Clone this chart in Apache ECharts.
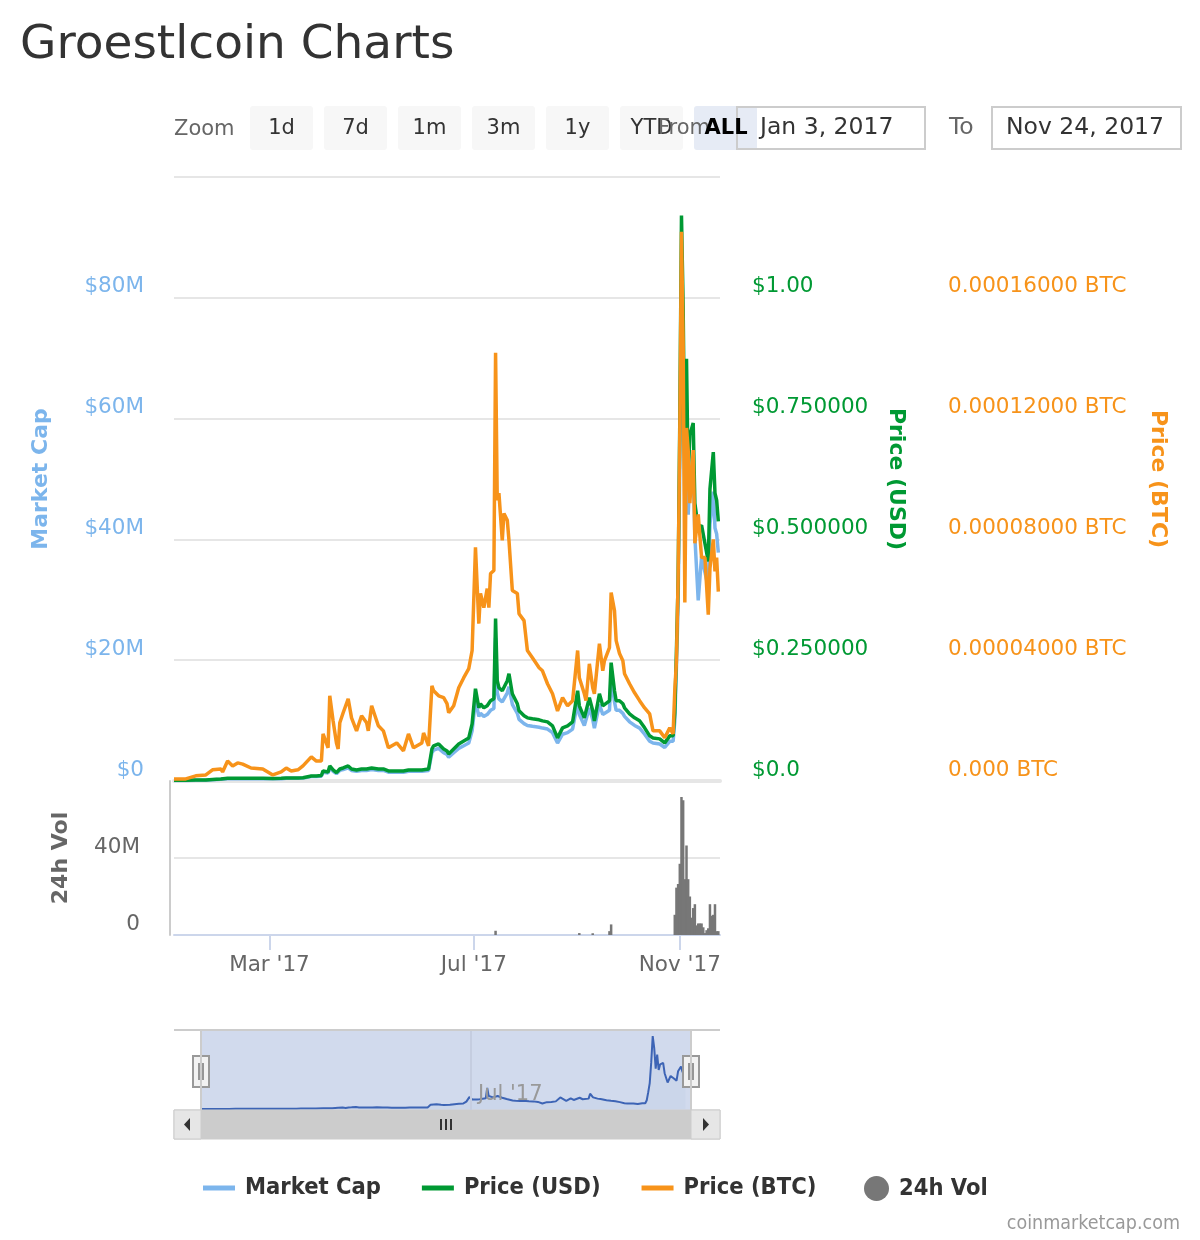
<!DOCTYPE html>
<html>
<head>
<meta charset="utf-8">
<title>Groestlcoin Charts</title>
<script src="https://cdn.jsdelivr.net/npm/echarts@6/dist/echarts.min.js"></script>
<style>
  html, body { margin: 0; padding: 0; background: #fff; }
  #chart { width: 1200px; height: 1240px; }
</style>
</head>
<body>
<div id="chart"></div>
<script>
// daily samples
const dates = [
  '2017-01-03', '2017-01-10', '2017-01-16', '2017-01-22', '2017-01-26', '2017-01-31', '2017-02-01', '2017-02-04',
  '2017-02-07', '2017-02-10', '2017-02-13', '2017-02-18', '2017-02-25', '2017-03-03', '2017-03-08', '2017-03-11',
  '2017-03-14', '2017-03-18', '2017-03-21', '2017-03-26', '2017-03-29', '2017-04-01', '2017-04-02', '2017-04-05',
  '2017-04-06', '2017-04-08', '2017-04-10', '2017-04-11', '2017-04-12', '2017-04-14', '2017-04-17', '2017-04-19',
  '2017-04-22', '2017-04-25', '2017-04-28', '2017-04-29', '2017-05-01', '2017-05-05', '2017-05-08', '2017-05-11',
  '2017-05-16', '2017-05-20', '2017-05-23', '2017-05-26', '2017-05-31', '2017-06-01', '2017-06-04', '2017-06-06',
  '2017-06-07', '2017-06-10', '2017-06-13', '2017-06-15', '2017-06-16', '2017-06-19', '2017-06-22', '2017-06-25',
  '2017-06-28', '2017-06-30', '2017-07-02', '2017-07-04', '2017-07-05', '2017-07-07', '2017-07-09', '2017-07-10',
  '2017-07-11', '2017-07-13', '2017-07-14', '2017-07-15', '2017-07-16', '2017-07-18', '2017-07-19', '2017-07-21',
  '2017-07-22', '2017-07-24', '2017-07-27', '2017-07-28', '2017-07-31', '2017-08-02', '2017-08-05', '2017-08-09',
  '2017-08-11', '2017-08-14', '2017-08-17', '2017-08-20', '2017-08-23', '2017-08-26', '2017-08-29', '2017-09-01',
  '2017-09-02', '2017-09-05', '2017-09-06', '2017-09-08', '2017-09-10', '2017-09-11', '2017-09-14', '2017-09-16',
  '2017-09-17', '2017-09-20', '2017-09-21', '2017-09-23', '2017-09-24', '2017-09-26', '2017-09-28', '2017-09-29',
  '2017-10-02', '2017-10-05', '2017-10-08', '2017-10-11', '2017-10-14', '2017-10-16', '2017-10-20', '2017-10-23',
  '2017-10-26', '2017-10-28', '2017-10-29', '2017-10-30', '2017-10-31', '2017-11-01', '2017-11-02', '2017-11-03',
  '2017-11-04', '2017-11-05', '2017-11-06', '2017-11-07', '2017-11-09', '2017-11-10', '2017-11-12', '2017-11-14',
  '2017-11-16', '2017-11-18', '2017-11-19', '2017-11-21', '2017-11-22', '2017-11-23', '2017-11-24'
]

const priceBtc = [
  0.0000007, 0.0000007, 0.0000017, 0.0000020, 0.0000037, 0.0000040, 0.0000030, 0.0000066,
  0.0000050, 0.0000060, 0.0000056, 0.0000043, 0.0000040, 0.0000020, 0.0000030, 0.0000043,
  0.0000033, 0.0000037, 0.0000050, 0.0000080, 0.0000066, 0.0000066, 0.0000156, 0.0000110,
  0.0000282, 0.0000199, 0.0000126, 0.0000106, 0.0000193, 0.0000226, 0.0000272, 0.0000209,
  0.0000166, 0.0000216, 0.0000193, 0.0000166, 0.0000249, 0.0000183, 0.0000166, 0.0000110,
  0.0000126, 0.0000100, 0.0000156, 0.0000110, 0.0000126, 0.0000159, 0.0000116, 0.0000315,
  0.0000299, 0.0000282, 0.0000276, 0.0000256, 0.0000226, 0.0000249, 0.0000309, 0.0000342,
  0.0000372, 0.0000432, 0.0000774, 0.0000521, 0.0000621, 0.0000574, 0.0000637, 0.0000574,
  0.0000687, 0.0000697, 0.0001418, 0.0000930, 0.0000953, 0.0000797, 0.0000886, 0.0000863,
  0.0000797, 0.0000631, 0.0000621, 0.0000554, 0.0000531, 0.0000432, 0.0000408, 0.0000375,
  0.0000365, 0.0000322, 0.0000289, 0.0000232, 0.0000276, 0.0000249, 0.0000266, 0.0000432,
  0.0000342, 0.0000289, 0.0000266, 0.0000388, 0.0000309, 0.0000289, 0.0000455, 0.0000365,
  0.0000398, 0.0000442, 0.0000624, 0.0000564, 0.0000465, 0.0000422, 0.0000398, 0.0000355,
  0.0000322, 0.0000292, 0.0000266, 0.0000242, 0.0000222, 0.0000166, 0.0000166, 0.0000143,
  0.0000176, 0.0000156, 0.0000299, 0.0000398, 0.0000671, 0.0001155, 0.0001819, 0.0001451,
  0.0000591, 0.0001169, 0.0001096, 0.0000920, 0.0001096, 0.0000787, 0.0000883, 0.0000740,
  0.0000740, 0.0000551, 0.0000704, 0.0000800, 0.0000694, 0.0000740, 0.0000627
]

const priceUsd = [
  0.0015, 0.0015, 0.0020, 0.0020, 0.0030, 0.0040, 0.0040, 0.0056,
  0.0056, 0.0056, 0.0056, 0.0056, 0.0056, 0.0052, 0.0056, 0.0062,
  0.0062, 0.0062, 0.0068, 0.0104, 0.0104, 0.0114, 0.0208, 0.0187,
  0.0311, 0.0228, 0.0172, 0.0166, 0.0249, 0.0270, 0.0311, 0.0249,
  0.0228, 0.0249, 0.0249, 0.0249, 0.0270, 0.0249, 0.0249, 0.0208,
  0.0208, 0.0208, 0.0228, 0.0228, 0.0228, 0.0249, 0.0249, 0.0664,
  0.0726, 0.0768, 0.0664, 0.0623, 0.0560, 0.0664, 0.0768, 0.0830,
  0.0892, 0.1183, 0.1909, 0.1515, 0.1598, 0.1515, 0.1556, 0.1556,
  0.1660, 0.1702, 0.3362, 0.2075, 0.1930, 0.1868, 0.1868, 0.2075,
  0.2220, 0.1805, 0.1598, 0.1453, 0.1349, 0.1307, 0.1287, 0.1266,
  0.1245, 0.1224, 0.1141, 0.0892, 0.1100, 0.1141, 0.1224, 0.1868,
  0.1556, 0.1307, 0.1287, 0.1722, 0.1453, 0.1245, 0.1805, 0.1556,
  0.1515, 0.1660, 0.2449, 0.1868, 0.1660, 0.1660, 0.1598, 0.1515,
  0.1390, 0.1307, 0.1245, 0.1100, 0.0934, 0.0892, 0.0872, 0.0789,
  0.0934, 0.0934, 0.1411, 0.2698, 0.4150, 0.7470, 1.1703, 0.9815,
  0.6474, 0.8736, 0.6267, 0.7159, 0.7408, 0.5748, 0.5229, 0.5291,
  0.4918, 0.4544, 0.6038, 0.6806, 0.5955, 0.5810, 0.5374
]

const marketCap = [
  0.10e6, 0.10e6, 0.14e6, 0.14e6, 0.21e6, 0.28e6, 0.28e6, 0.39e6,
  0.39e6, 0.39e6, 0.39e6, 0.39e6, 0.39e6, 0.37e6, 0.39e6, 0.44e6,
  0.44e6, 0.44e6, 0.48e6, 0.73e6, 0.73e6, 0.80e6, 1.46e6, 1.31e6,
  2.19e6, 1.60e6, 1.21e6, 1.17e6, 1.75e6, 1.90e6, 2.19e6, 1.75e6,
  1.60e6, 1.75e6, 1.75e6, 1.75e6, 1.90e6, 1.75e6, 1.75e6, 1.46e6,
  1.46e6, 1.46e6, 1.60e6, 1.60e6, 1.60e6, 1.75e6, 1.75e6, 4.67e6,
  5.10e6, 5.40e6, 4.67e6, 4.38e6, 3.94e6, 4.67e6, 5.40e6, 5.84e6,
  6.28e6, 8.32e6, 13.4e6, 10.7e6, 11.2e6, 10.7e6, 11.0e6, 11.0e6,
  11.7e6, 12.0e6, 23.7e6, 14.6e6, 13.6e6, 13.1e6, 13.1e6, 14.6e6,
  15.6e6, 12.7e6, 11.2e6, 10.2e6, 9.5e6, 9.2e6, 9.05e6, 8.9e6,
  8.76e6, 8.6e6, 8.0e6, 6.28e6, 7.74e6, 8.0e6, 8.6e6, 13.1e6,
  11.0e6, 9.2e6, 9.05e6, 12.1e6, 10.2e6, 8.76e6, 12.7e6, 11.0e6,
  10.7e6, 11.7e6, 17.2e6, 13.1e6, 11.7e6, 11.7e6, 11.2e6, 10.7e6,
  9.8e6, 9.2e6, 8.76e6, 7.74e6, 6.57e6, 6.28e6, 6.13e6, 5.55e6,
  6.57e6, 6.57e6, 9.9e6, 19.0e6, 29.2e6, 52.6e6, 82.3e6, 69.0e6,
  45.6e6, 61.5e6, 44.1e6, 50.4e6, 52.1e6, 40.4e6, 29.9e6, 37.2e6,
  34.6e6, 32.0e6, 42.5e6, 47.9e6, 41.9e6, 40.9e6, 37.8e6
]

const volDates = [
  '2017-07-14', '2017-09-02', '2017-09-10', '2017-09-20', '2017-09-21',
  '2017-10-29', '2017-10-30', '2017-10-31', '2017-11-01', '2017-11-02', '2017-11-03',
  '2017-11-04', '2017-11-05', '2017-11-06', '2017-11-07', '2017-11-08', '2017-11-09',
  '2017-11-10', '2017-11-11', '2017-11-12', '2017-11-13', '2017-11-14', '2017-11-15',
  '2017-11-16', '2017-11-17', '2017-11-18', '2017-11-19', '2017-11-20', '2017-11-21',
  '2017-11-22', '2017-11-23', '2017-11-24'
]
const volume = [
  2.2e6, 1.0e6, 0.9e6, 2.0e6, 5.5e6,
  10.5e6, 24.6e6, 26.5e6, 37.0e6, 71.7e6, 70.0e6,
  29.0e6, 46.5e6, 29.0e6, 20.0e6, 9.0e6, 14.0e6,
  16.0e6, 5.0e6, 6.0e6, 6.0e6, 6.0e6, 4.0e6,
  1.0e6, 2.5e6, 3.5e6, 16.0e6, 10.0e6, 10.5e6,
  16.0e6, 2.0e6, 2.0e6
]

const zoomButtons = ['1d', '7d', '1m', '3m', '1y', 'YTD', 'ALL']
const monthNames = ['Jan', 'Feb', 'Mar', 'Apr', 'May', 'Jun', 'Jul', 'Aug', 'Sep', 'Oct', 'Nov', 'Dec']
const xTickDates = ['2017-03-01', '2017-07-01', '2017-11-01']
const rangeStart = '2017-01-03'
const rangeEnd = '2017-11-25'

const FONT = 'DejaVu Sans'
const COND = 'DejaVu Sans Condensed'
const C_CAP = '#7cb5ec'
const C_USD = '#009933'
const C_BTC = '#f7931a'

function ts(s) {
  const p = s.split('-').map(Number)
  return new Date(p[0], p[1] - 1, p[2]).getTime()
}
function pairs(xs, ys) {
  return xs.map((d, i) => [ts(d), ys[i]])
}
function monthLabel(v) {
  const d = new Date(v)
  return monthNames[d.getMonth()] + " '" + String(d.getFullYear()).slice(2)
}
function txt(x, y, text, opts) {
  return {
    type: 'text', x: x, y: y, z: 10,
    style: Object.assign({
      text: text, fill: '#333', fontFamily: FONT, fontSize: 21,
      textAlign: 'left', textVerticalAlign: 'middle'
    }, opts || {})
  }
}
function box(x, y, w, h, style, r) {
  return { type: 'rect', z: 5, shape: { x: x, y: y, width: w, height: h, r: r || 0 }, style: style }
}
function seg(x1, y1, x2, y2, color, w) {
  return { type: 'line', z: 6, shape: { x1: x1, y1: y1, x2: x2, y2: y2 }, style: { stroke: color, lineWidth: w || 1 } }
}

const xTicks = xTickDates.map(ts)
const xMin = ts(rangeStart)
const xMax = ts(rangeEnd)

const chart = echarts.init(document.getElementById('chart'), null, { renderer: 'canvas' })

// range selector + date inputs
const graphics = []
graphics.push(txt(174, 130, 'Zoom', { fill: '#666' }))
zoomButtons.forEach((b, i) => {
  const x = 250 + i * 74
  const sel = b === 'ALL'
  graphics.push(box(x, 106, 63, 44, { fill: sel ? '#e6ebf5' : '#f7f7f7' }, 3))
})
zoomButtons.forEach((b, i) => {
  const x = 250 + i * 74
  if (b === 'ALL') return
  graphics.push(txt(x + 31.5, 129, b, { textAlign: 'center' }))
})
graphics.push(txt(658, 129, 'From', { fill: '#666' }))
graphics.push(txt(694 + 32, 129, 'ALL', { textAlign: 'center', fontWeight: 'bold', fill: '#000' }))
graphics.push(box(737, 107, 188, 42, { fill: 'none', stroke: '#cccccc', lineWidth: 2 }))
graphics.push(txt(760, 128, 'Jan 3, 2017', { fontSize: 23.5 }))
graphics.push(txt(949, 128, 'To', { fill: '#666', fontSize: 23.5 }))
graphics.push(box(992, 107, 189, 42, { fill: 'none', stroke: '#cccccc', lineWidth: 2 }))
graphics.push(txt(1006, 128, 'Nov 24, 2017', { fontSize: 23.5 }))

// navigator chrome
graphics.push({ type: 'rect', z: 0, shape: { x: 201, y: 1031, width: 490, height: 79 }, style: { fill: 'rgba(102,133,194,0.3)' } })
graphics.push(seg(471, 1031, 471, 1110, '#c5cde0', 2))
graphics.push(txt(478, 1095, "Jul '17", { fill: '#999', fontSize: 21 }))
graphics.push(seg(174, 1030, 720, 1030, '#cccccc', 2))
graphics.push(seg(201, 1030, 201, 1110, '#cccccc', 2))
graphics.push(seg(691, 1030, 691, 1110, '#cccccc', 2))
graphics.push(box(174, 1110, 546, 29, { fill: '#f2f2f2', stroke: '#cccccc', lineWidth: 1 }))
graphics.push(box(201, 1110, 490, 29, { fill: '#cccccc' }))
graphics.push(box(174, 1110, 27, 29, { fill: '#e6e6e6', stroke: '#cccccc', lineWidth: 1 }))
graphics.push(box(691, 1110, 29, 29, { fill: '#e6e6e6', stroke: '#cccccc', lineWidth: 1 }))
graphics.push({ type: 'polygon', z: 7, shape: { points: [[190, 1118], [190, 1131], [184, 1124.5]] }, style: { fill: '#333' } })
graphics.push({ type: 'polygon', z: 7, shape: { points: [[703, 1118], [703, 1131], [709, 1124.5]] }, style: { fill: '#333' } })
;[441, 446, 451].forEach(x => graphics.push(seg(x, 1119, x, 1130, '#333', 2)))
;[201, 691].forEach(cx => {
  graphics.push(box(cx - 8, 1056, 16, 31, { fill: '#f2f2f2', stroke: '#999', lineWidth: 2 }))
  graphics.push(seg(cx - 2, 1063, cx - 2, 1080, '#777', 1.5))
  graphics.push(seg(cx + 2, 1063, cx + 2, 1080, '#777', 1.5))
})
graphics.push(txt(1180, 1224, 'coinmarketcap.com', { textAlign: 'right', fill: '#999', fontFamily: COND, fontSize: 19.5 }))

const labelStyle = { fontFamily: FONT, fontSize: 21.5, verticalAlign: 'bottom' }
const nameStyle = { fontFamily: FONT, fontSize: 22, fontWeight: 'bold' }
const legendText = { fontFamily: COND, fontSize: 23.5, fontWeight: 'bold', color: '#333', padding: [0, 0, 0, 5] }

chart.setOption({
  animation: false,
  backgroundColor: '#fff',
  title: {
    text: 'Groestlcoin Charts',
    left: 15, top: 17,
    textStyle: { fontFamily: FONT, fontSize: 47, fontWeight: 'normal', color: '#333' }
  },
  legend: [
    {
      data: ['Market Cap', 'Price (USD)', 'Price (BTC)'],
      left: 203, top: 1176, padding: 0,
      icon: 'rect', itemWidth: 32, itemHeight: 5, itemGap: 41,
      textStyle: legendText
    },
    {
      data: ['24h Vol'],
      left: 864, top: 1176, padding: 0,
      icon: 'circle', itemWidth: 25, itemHeight: 25,
      textStyle: legendText
    }
  ],
  graphic: graphics,
  grid: [
    { left: 174, width: 546, top: 177, height: 604 },
    { left: 174, width: 546, top: 781, height: 154 },
    { left: 201, width: 486, top: 1031, height: 78 }
  ],
  xAxis: [
    {
      type: 'value', gridIndex: 0, min: xMin, max: xMax,
      axisLine: { lineStyle: { color: '#e6e6e6', width: 4 } },
      axisTick: { show: false }, axisLabel: { show: false }, splitLine: { show: false }
    },
    {
      type: 'value', gridIndex: 1, min: xMin, max: xMax,
      axisLine: { lineStyle: { color: '#ccd6eb', width: 2 } },
      axisTick: { customValues: xTicks, length: 15, lineStyle: { color: '#ccd6eb', width: 2 } },
      axisLabel: { customValues: xTicks, formatter: monthLabel, color: '#666', margin: 19, fontFamily: FONT, fontSize: 21.5 },
      splitLine: { show: false }
    },
    {
      type: 'value', gridIndex: 2, min: xMin, max: xMax, show: false
    }
  ],
  yAxis: [
    {
      type: 'value', gridIndex: 0, position: 'left', min: 0, max: 100e6, interval: 20e6,
      name: 'Market Cap', nameLocation: 'middle', nameGap: 122,
      nameTextStyle: Object.assign({ color: C_CAP }, nameStyle),
      axisLine: { show: false }, axisTick: { show: false },
      axisLabel: Object.assign({
        color: C_CAP, margin: 30,
        formatter: v => v === 0 ? '$0' : (v >= 100e6 ? '' : '$' + Math.round(v / 1e6) + 'M')
      }, labelStyle),
      splitLine: { lineStyle: { color: '#e6e6e6', width: 2 } }
    },
    {
      type: 'value', gridIndex: 0, position: 'right', min: 0, max: 1.25, interval: 0.25,
      name: 'Price (USD)', nameLocation: 'middle', nameGap: 165, nameRotate: -90,
      nameTextStyle: Object.assign({ color: C_USD }, nameStyle),
      axisLine: { show: false }, axisTick: { show: false },
      axisLabel: Object.assign({
        color: C_USD, margin: 32,
        formatter: v => v === 0 ? '$0.0' : (v >= 1.2 ? '' : (Math.abs(v - 1) < 1e-9 ? '$1.00' : '$' + v.toFixed(6)))
      }, labelStyle),
      splitLine: { show: false }
    },
    {
      type: 'value', gridIndex: 0, position: 'right', offset: 196, min: 0, max: 0.0002, interval: 0.00004,
      name: 'Price (BTC)', nameLocation: 'middle', nameGap: 231, nameRotate: -90,
      nameTextStyle: Object.assign({ color: C_BTC }, nameStyle),
      axisLine: { show: false }, axisTick: { show: false },
      axisLabel: Object.assign({
        color: C_BTC, margin: 32,
        formatter: v => v === 0 ? '0.000 BTC' : (v >= 0.00019 ? '' : v.toFixed(8) + ' BTC')
      }, labelStyle),
      splitLine: { show: false }
    },
    {
      type: 'value', gridIndex: 1, position: 'left', offset: 4, min: 0, max: 80e6, interval: 40e6,
      name: '24h Vol', nameLocation: 'middle', nameGap: 98,
      nameTextStyle: Object.assign({ color: '#666' }, nameStyle),
      axisLine: { show: true, lineStyle: { color: '#cccccc', width: 2 } }, axisTick: { show: false },
      axisLabel: Object.assign({
        color: '#666', margin: 30,
        formatter: v => v === 0 ? '0' : (v >= 80e6 ? '' : Math.round(v / 1e6) + 'M')
      }, labelStyle),
      splitLine: { lineStyle: { color: '#e6e6e6', width: 2 } }
    },
    {
      type: 'value', gridIndex: 2, min: 0, max: 88e6, show: false
    }
  ],
  series: [
    {
      name: 'Market Cap', type: 'line', xAxisIndex: 0, yAxisIndex: 0,
      data: pairs(dates, marketCap), showSymbol: false, color: C_CAP,
      lineStyle: { width: 3.5 }
    },
    {
      name: 'Price (USD)', type: 'line', xAxisIndex: 0, yAxisIndex: 1,
      data: pairs(dates, priceUsd), showSymbol: false, color: C_USD,
      lineStyle: { width: 3.5 }
    },
    {
      name: 'Price (BTC)', type: 'line', xAxisIndex: 0, yAxisIndex: 2,
      data: pairs(dates, priceBtc), showSymbol: false, color: C_BTC,
      lineStyle: { width: 3.5 }
    },
    {
      name: '24h Vol', type: 'bar', xAxisIndex: 1, yAxisIndex: 3,
      data: pairs(volDates, volume), color: '#777', barWidth: 2.5
    },
    {
      name: 'navigator', type: 'line', xAxisIndex: 2, yAxisIndex: 4,
      data: pairs(dates, marketCap), showSymbol: false, color: '#3d64b5',
      lineStyle: { width: 2 }, areaStyle: { color: 'rgba(61,100,181,0.05)' }
    }
  ]
})
</script>
</body>
</html>
